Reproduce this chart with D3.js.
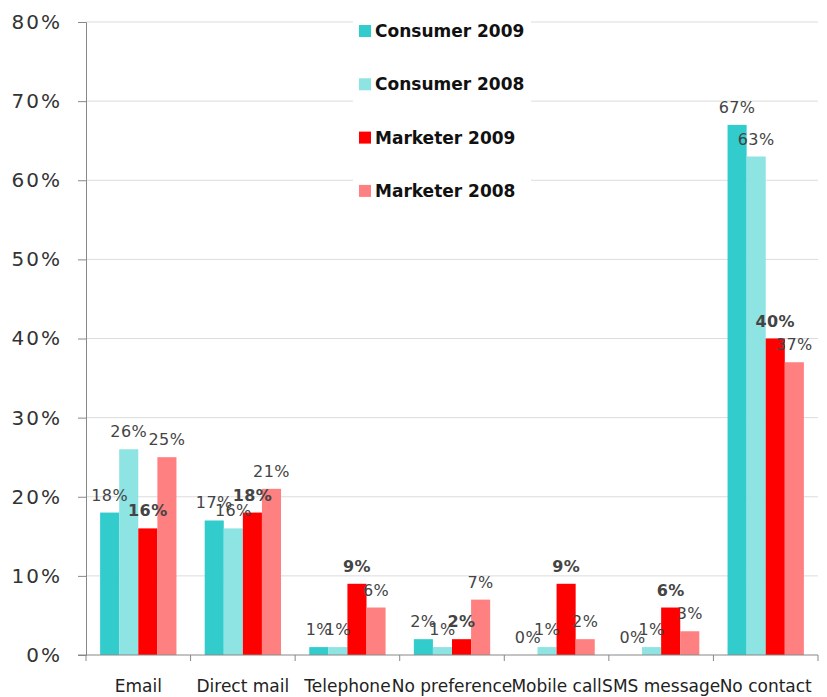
<!DOCTYPE html>
<html>
<head>
<meta charset="utf-8">
<script src="https://cdn.jsdelivr.net/npm/d3@7"></script>
<style>
  html, body { margin: 0; padding: 0; background: #fff; }
  svg { display: block; font-family: "DejaVu Sans", Verdana, sans-serif; }
</style>
</head>
<body>
<svg id="chart" width="827" height="697"></svg>
<script>
const categories = ["Email", "Direct mail", "Telephone", "No preference", "Mobile call", "SMS message", "No contact"];
const seriesNames = ["Consumer 2009", "Consumer 2008", "Marketer 2009", "Marketer 2008"];
const consumer2009 = [18, 17, 1, 2, 0, 0, 67];
const consumer2008 = [26, 16, 1, 1, 1, 1, 63];
const marketer2009 = [16, 18, 9, 2, 9, 6, 40];
const marketer2008 = [25, 21, 6, 7, 2, 3, 37];
const yTicks = [0, 10, 20, 30, 40, 50, 60, 70, 80];

const seriesValues = [consumer2009, consumer2008, marketer2009, marketer2008];
const colors = ["#33CCCC", "#8EE3E3", "#FF0000", "#FF8080"];
const boldLabel = [false, false, true, false];

const svg = d3.select("#chart");
const margin = { left: 86, right: 9, top: 22, bottom: 42 };
const W = 827, H = 697;

const x = d3.scaleBand().domain(categories)
  .range([margin.left, W - margin.right]).paddingInner(0.27).paddingOuter(0.135);
const xOuter = d3.scaleBand().domain(categories).range([margin.left, W - margin.right]);
const xs = d3.scaleBand().domain(d3.range(4)).range([0, x.bandwidth()]);
const y = d3.scaleLinear().domain([0, 80]).range([H - margin.bottom, margin.top]);

// horizontal gridlines
svg.append("g").selectAll("line").data(yTicks.slice(1)).join("line")
  .attr("x1", margin.left).attr("x2", W - margin.right)
  .attr("y1", d => y(d)).attr("y2", d => y(d))
  .attr("stroke", "#dcdcdc").attr("stroke-width", 1);

// bars
const groups = svg.append("g").selectAll("g").data(seriesValues).join("g")
  .attr("fill", (d, i) => colors[i]);
groups.each(function (vals, si) {
  d3.select(this).selectAll("rect").data(vals).join("rect")
    .attr("x", (d, ci) => x(categories[ci]) + xs(si))
    .attr("width", xs.bandwidth())
    .attr("y", d => y(d))
    .attr("height", d => y(0) - y(d));
});

// value labels
const labels = svg.append("g").attr("font-size", 16).attr("fill", "#444")
  .attr("text-anchor", "middle").attr("letter-spacing", 0.4);
seriesValues.forEach((vals, si) => {
  labels.append("g").attr("font-weight", boldLabel[si] ? "bold" : "normal")
    .selectAll("text").data(vals).join("text")
    .attr("x", (d, ci) => x(categories[ci]) + xs(si) + xs.bandwidth() / 2)
    .attr("y", d => y(d) - 12)
    .text(d => d + "%");
});

// y axis
const yAxis = d3.axisLeft(y).tickValues(yTicks).tickFormat(d => d + "%").tickSize(8).tickPadding(16);
const gy = svg.append("g").attr("transform", `translate(${margin.left},0)`).call(yAxis);
gy.selectAll("text").attr("font-size", 20).attr("fill", "#333")
  .attr("font-family", "DejaVu Sans, sans-serif").attr("letter-spacing", 2);
gy.selectAll("line, path").attr("stroke", "#888");

// x axis: ticks at category boundaries
const gx = svg.append("g").attr("transform", `translate(0,${y(0)})`);
gx.append("line").attr("x1", margin.left - 8).attr("x2", W - margin.right)
  .attr("stroke", "#888");
gx.selectAll("line.t").data(categories.concat([null])).join("line").attr("class", "t")
  .attr("x1", (d, i) => margin.left + i * xOuter.step()).attr("x2", (d, i) => margin.left + i * xOuter.step())
  .attr("y1", 0).attr("y2", 6).attr("stroke", "#888");
gx.selectAll("text").data(categories).join("text")
  .attr("x", d => xOuter(d) + xOuter.bandwidth() / 2)
  .attr("y", 37).attr("text-anchor", "middle")
  .attr("font-size", 17).attr("fill", "#222")
  .text(d => d);

// legend
const legend = svg.append("g").attr("transform", "translate(353,8)");
legend.append("rect").attr("width", 178).attr("height", 205).attr("fill", "#fff");
const li = legend.selectAll("g").data(seriesNames).join("g")
  .attr("transform", (d, i) => `translate(6,${29 + i * 53.3})`);
li.append("rect").attr("x", 0).attr("y", -12).attr("width", 12).attr("height", 12)
  .attr("fill", (d, i) => colors[i]);
li.append("text").attr("x", 16).attr("y", 0).attr("font-size", 17).attr("font-weight", "bold")
  .attr("fill", "#111").text(d => d);
</script>
</body>
</html>
